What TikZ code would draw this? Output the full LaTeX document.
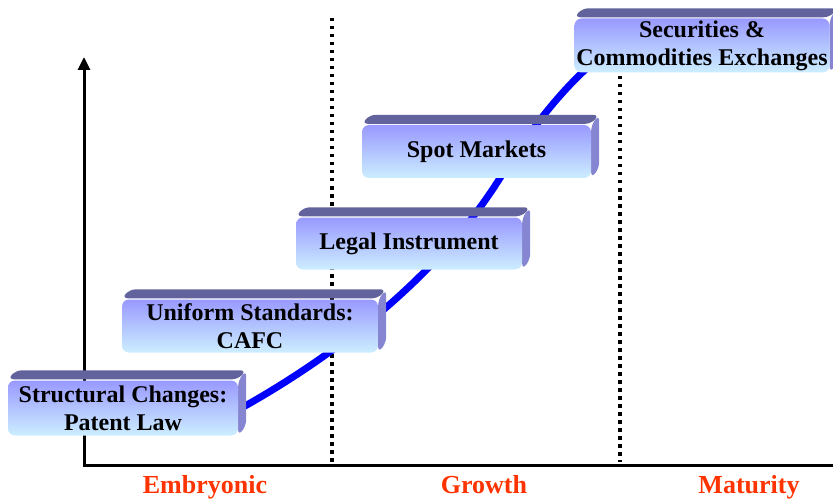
\documentclass[tikz,border=0pt]{standalone}
\usepackage{fontspec}
\setmainfont{Liberation Serif}
\usetikzlibrary{arrows.meta}
\pgfdeclarelayer{back}
\pgfdeclarelayer{ext}
\pgfsetlayers{back,ext,main}
\definecolor{topc}{HTML}{62629C}
\definecolor{sidec}{HTML}{8585D2}
\definecolor{frontT}{HTML}{9999FF}
\definecolor{frontB}{HTML}{CCEEFF}
\definecolor{stage}{HTML}{FF3300}
\tikzset{
  box/.style={rounded corners=7pt, top color=frontT, bottom color=frontB, draw=none,
    inner sep=0pt, align=center, font=\fontsize{24}{28}\selectfont\bfseries, text=black},
  axis/.style={line width=3pt},
  divider/.style={line width=3.5pt, dash pattern=on 3.5pt off 4.5pt},
  curve/.style={line width=7pt, color=blue},
  stagelbl/.style={text=stage, anchor=base, font=\fontsize{26}{30}\selectfont\bfseries},
}
\newcommand\extrudebox[1]{%
  \fill[sidec, rounded corners=6pt] (#1.north east) -- ([shift={(8,-10)}]#1.north east)
    -- ([shift={(8,-10)}]#1.south east) -- (#1.south east) -- cycle;
  \fill[topc, rounded corners=6pt] ([yshift=1pt]#1.north west) -- ([shift={(8,-10)}]#1.north west)
    -- ([shift={(8,-10)}]#1.north east) -- ([yshift=1pt]#1.north east) -- cycle;}
\begin{document}
\begin{tikzpicture}[x=1pt,y=-1pt]
\useasboundingbox (0,0) rectangle (833,500);
% boxes
\node[box, minimum width=230pt, minimum height=55pt] (b1) at (123,408) {Structural Changes:\\Patent Law};
\node[box, minimum width=256pt, minimum height=53pt] (b2) at (250,326) {Uniform Standards:\\CAFC};
\node[box, minimum width=226pt, minimum height=52pt] (b3) at (409,243.5) {Legal Instrument};
\node[box, minimum width=229pt, minimum height=53pt] (b4) at (476.5,151.5) {Spot Markets};
\node[box, minimum width=255pt, minimum height=54pt] (b5) at (702,45.5) {Securities \&\\Commodities Exchanges};
\begin{pgfonlayer}{ext}
  \extrudebox{b1}\extrudebox{b2}\extrudebox{b3}\extrudebox{b4}\extrudebox{b5}
\end{pgfonlayer}
% axes, dividers, curve
\coordinate (origin) at (84,465);
\coordinate (ytop) at (84,57);
\coordinate (xstart) at (82.5,465);
\coordinate (xend) at (833,465);
\coordinate (d1t) at (332,18);
\coordinate (d1b) at (332,462);
\coordinate (d2t) at (620,76);
\coordinate (d2b) at (620,462);
\coordinate (c0) at (236,411);
\coordinate (k1) at (338,355);
\coordinate (k2) at (440,274);
\coordinate (mid) at (500,178);
\coordinate (k3) at (535,122);
\coordinate (k4) at (572,76);
\coordinate (c1) at (612,48);
\begin{pgfonlayer}{back}
  \draw[axis, -{Triangle[width=12pt,length=13pt]}] (origin) -- (ytop);
  \draw[axis] (xstart) -- (xend);
  \draw[divider] (d1t) -- (d1b);
  \draw[divider] (d2t) -- (d2b);
  \draw[curve] (c0) .. controls (k1) and (k2) .. (mid) .. controls (k3) and (k4) .. (c1);
\end{pgfonlayer}
% stage labels
\node[stagelbl] (s1) at (205,493) {Embryonic};
\node[stagelbl] (s2) at (484,493) {Growth};
\node[stagelbl] (s3) at (749,493) {Maturity};
\end{tikzpicture}
\end{document}
